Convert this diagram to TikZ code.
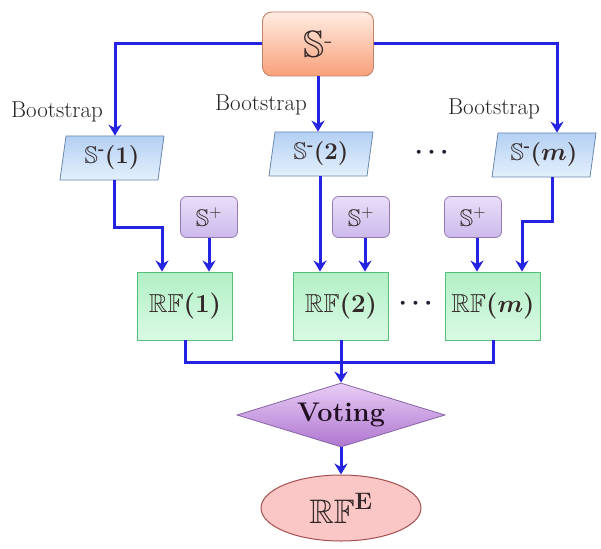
\documentclass[tikz,border=0pt]{standalone}
\usepackage{amsmath,amssymb,bm}
\usetikzlibrary{shapes.geometric,arrows.meta}

\definecolor{flowblue}{RGB}{35,35,225}
\definecolor{txt}{RGB}{50,40,40}

\tikzset{
  flow/.style={draw=flowblue, line width=3pt, -{Stealth[length=11pt,width=13pt]}},
  joinline/.style={draw=flowblue, line width=3pt},
  srcbox/.style={rectangle, rounded corners=9pt, draw={rgb,255:red,195;green,130;blue,105}, line width=0.9pt,
    top color={rgb,255:red,255;green,236;blue,226}, bottom color={rgb,255:red,248;green,160;blue,122},
    minimum width=111pt, minimum height=64pt, text=txt},
  bagbox/.style={trapezium, trapezium left angle=77, trapezium right angle=103, trapezium stretches body,
    draw={rgb,255:red,105;green,135;blue,175}, line width=0.8pt,
    top color={rgb,255:red,180;green,208;blue,243}, bottom color={rgb,255:red,228;green,240;blue,252},
    minimum width=104pt, minimum height=44pt, inner sep=1pt, text=txt, font=\fontsize{24}{27}\selectfont\bfseries},
  posbox/.style={rectangle, rounded corners=6pt, draw={rgb,255:red,150;green,120;blue,180}, line width=0.8pt,
    top color={rgb,255:red,232;green,222;blue,248}, bottom color={rgb,255:red,204;green,186;blue,236},
    minimum width=57pt, minimum height=41pt, text=txt, font=\fontsize{24}{27}\selectfont},
  rfbox/.style={rectangle, draw={rgb,255:red,85;green,190;blue,120}, line width=0.9pt,
    top color={rgb,255:red,178;green,240;blue,198}, bottom color={rgb,255:red,218;green,250;blue,228},
    minimum width=95pt, minimum height=68pt, text=txt, font=\fontsize{26}{29}\selectfont\bfseries},
  votebox/.style={diamond, aspect=3.25, draw={rgb,255:red,135;green,100;blue,165}, line width=0.8pt,
    top color={rgb,255:red,232;green,205;blue,245}, bottom color={rgb,255:red,175;green,118;blue,208},
    minimum width=208pt, minimum height=64pt, inner sep=0pt, text={rgb,255:red,35;green,15;blue,35},
    font=\fontsize{27}{30}\selectfont\bfseries},
  ensbox/.style={ellipse, draw={rgb,255:red,165;green,80;blue,80}, line width=1pt,
    fill={rgb,255:red,250;green,198;blue,198}, minimum width=160pt, minimum height=66pt,
    text=txt, font=\fontsize{34}{37}\selectfont},
  lbl/.style={font=\fontsize{23}{26}\selectfont, text={rgb,255:red,35;green,35;blue,35}},
  dots/.style={font=\fontsize{26}{28}\selectfont, text={rgb,255:red,30;green,30;blue,50}}
}

\begin{document}
\begin{tikzpicture}[x=1pt,y=-1pt]
\useasboundingbox[fill=white] (0,0) rectangle (601,548);

% source set
\node[srcbox, font=\fontsize{38}{40}\selectfont] (top) at (318,44) {$\mathbb{S}^{\text{-}}$};

% bootstrap samples
\node[bagbox] (p1) at (112,158) {$\mathbb{S}^{\text{-}}$(1)};
\node[bagbox] (p2) at (321,154) {$\mathbb{S}^{\text{-}}$(2)};
\node[bagbox] (pm) at (544,155) {$\mathbb{S}^{\text{-}}$($\bm{m}$)};
\node[dots] (d1) at (434,153) {$\bm{\cdots}$};

\node[lbl] (b1) at (57,112) {Bootstrap};
\node[lbl] (b2) at (261,105) {Bootstrap};
\node[lbl] (bm) at (494,109) {Bootstrap};

% positive sets
\node[posbox] (s1) at (209,217) {$\mathbb{S}^{+}$};
\node[posbox] (s2) at (361,217) {$\mathbb{S}^{+}$};
\node[posbox] (sm) at (473,217) {$\mathbb{S}^{+}$};

% random forests
\node[rfbox] (rf1) at (185,306) {$\mathbb{RF}$(1)};
\node[rfbox] (rf2) at (341,306) {$\mathbb{RF}$(2)};
\node[rfbox] (rfm) at (493,306) {$\mathbb{RF}$($\bm{m}$)};
\node[dots] (d2) at (418,304) {$\bm{\cdots}$};

% voting and ensemble
\node[votebox] (vote) at (341,415) {Voting};
\node[ensbox] (ens) at (341,508) {$\mathbb{RF}^{\textbf{E}}$};

% connectors
\draw[flow] (top.west) -| ([xshift=3pt]p1.north);
\draw[flow] (top.south) -- (top.south |- p2.north);
\draw[flow] (top.east) -| ([xshift=13pt]pm.north);

\draw[flow] ([xshift=2pt]p1.south) -- ++(0,47) -| ([xshift=-23pt]rf1.north);
\draw[flow] (s1.south) -- (s1.south |- rf1.north);
\draw[flow] ([xshift=-1pt]p2.south) -- ([xshift=-1pt]p2.south |- rf2.north);
\draw[flow] ([xshift=4pt]s2.south) -- ([xshift=4pt]s2.south |- rf2.north);
\draw[flow] ([xshift=8pt]pm.south) -- ++(0,44) -| ([xshift=29pt]rfm.north);
\draw[flow] ([xshift=4pt]sm.south) -- ([xshift=4pt]sm.south |- rfm.north);

\coordinate (join) at (341,362);
\draw[joinline] (rf1.south) |- (join) -| (rfm.south);
\draw[flow] (rf2.south) -- (vote.north);
\draw[flow] (vote.south) -- (ens.north);
\end{tikzpicture}
\end{document}
